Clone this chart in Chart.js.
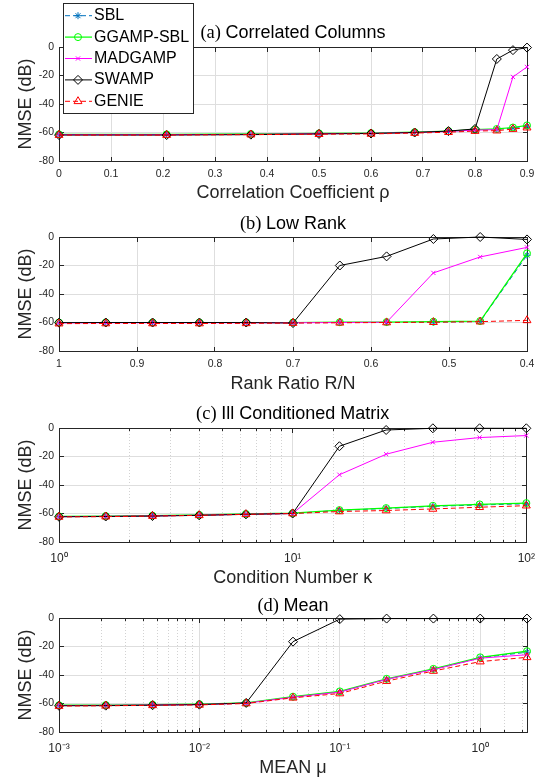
<!DOCTYPE html>
<html>
<head>
<meta charset="utf-8">
<script src="https://cdn.jsdelivr.net/npm/chart.js@4.4.1/dist/chart.umd.min.js"></script>
<style>
  html, body { margin: 0; padding: 0; background: #fff; }
  #wrap { position: relative; width: 544px; height: 784px; overflow: hidden; }
  #wrap canvas { position: absolute; left: 0; }
</style>
</head>
<body>
<div id="wrap">
  <canvas id="panelA" width="544" height="213" style="top:0px"></canvas>
  <canvas id="panelB" width="544" height="213" style="top:190px"></canvas>
  <canvas id="panelC" width="544" height="213" style="top:381px"></canvas>
  <canvas id="panelD" width="544" height="213" style="top:571px"></canvas>
</div>
<script>
// ---------- data (NMSE in dB) ----------
const methods = ['SBL', 'GGAMP-SBL', 'MADGAMP', 'SWAMP', 'GENIE'];

// (a) correlated columns
const rhoValues   = [0, 0.207, 0.369, 0.5, 0.6, 0.684, 0.749, 0.8, 0.842, 0.873, 0.9];
const corrSBL     = [-61.5, -61.5, -61.3, -60.8, -60.6, -60.0, -59.3, -58.3, -57.8, -56.8, -55.5];
const corrGGAMP   = [-61.3, -61.3, -61.0, -60.6, -60.4, -59.8, -59.0, -58.0, -57.5, -56.5, -55.0];
const corrMADGAMP = [-61.5, -61.5, -61.3, -60.8, -60.6, -60.0, -59.3, -58.3, -58.0, -21.0, -14.0];
const corrSWAMP   = [-61.8, -61.8, -61.5, -61.0, -60.7, -60.0, -59.0, -57.5, -8.4, -2.2, -0.4];
const corrGENIE   = [-61.8, -61.8, -61.5, -61.2, -61.0, -60.4, -59.8, -59.0, -58.7, -57.6, -56.6];

// (b) low rank
const rankRatio   = [1, 0.94, 0.88, 0.82, 0.76, 0.7, 0.64, 0.58, 0.52, 0.46, 0.4];
const rankSBL     = [-60.3, -60.2, -60.2, -60.2, -60.2, -60.2, -60.0, -60.0, -59.7, -59.3, -12.8];
const rankGGAMP   = [-60.0, -60.0, -60.0, -60.0, -60.0, -60.0, -59.8, -59.7, -59.4, -59.0, -11.5];
const rankMADGAMP = [-60.3, -60.2, -60.2, -60.2, -60.2, -60.2, -60.0, -59.8, -25.2, -14.0, -7.3];
const rankSWAMP   = [-60.1, -60.0, -60.0, -60.0, -60.0, -60.4, -20.0, -13.6, -1.4, 0.0, -1.7];
const rankGENIE   = [-60.8, -60.7, -60.7, -60.7, -60.6, -60.4, -60.2, -60.0, -59.8, -59.4, -58.5];

// (c) ill conditioned matrix
const condNumber  = [1, 1.585, 2.512, 3.981, 6.31, 10, 15.85, 25.12, 39.81, 63.1, 100];
const condSBL     = [-62.2, -62.0, -61.7, -61.2, -60.5, -60.0, -57.8, -56.5, -55.0, -54.0, -53.2];
const condGGAMP   = [-62.0, -61.8, -61.5, -61.0, -60.3, -59.8, -57.6, -56.2, -54.6, -53.6, -52.7];
const condMADGAMP = [-62.2, -62.0, -61.7, -61.2, -60.5, -60.0, -32.8, -18.4, -10.0, -6.7, -5.3];
const condSWAMP   = [-62.3, -62.1, -61.8, -61.3, -60.6, -60.0, -12.8, -1.4, -0.2, -0.2, -0.2];
const condGENIE   = [-62.4, -62.2, -61.8, -61.3, -60.6, -60.0, -58.6, -57.9, -56.8, -55.6, -54.5];

// (d) mean
const meanValues  = [0.001, 0.002154, 0.004642, 0.01, 0.02154, 0.04642, 0.1, 0.2154, 0.4642, 1, 2.154];
const meanSBL     = [-61.4, -61.3, -61.0, -60.7, -59.8, -55.5, -51.8, -43.0, -36.0, -28.0, -24.0];
const meanGGAMP   = [-61.2, -61.1, -60.8, -60.5, -59.6, -55.2, -51.5, -42.7, -35.7, -27.6, -23.3];
const meanMADGAMP = [-61.4, -61.3, -61.0, -60.7, -59.8, -55.6, -52.0, -43.0, -36.2, -28.2, -25.8];
const meanSWAMP   = [-61.6, -61.5, -61.2, -60.8, -59.6, -16.6, -0.8, -0.4, -0.4, -0.4, -0.4];
const meanGENIE   = [-61.8, -61.6, -61.3, -61.0, -60.0, -56.0, -53.0, -44.3, -37.2, -30.6, -27.6];

const nmseTicks = [-80, -60, -40, -20, 0];

// ---------- styles ----------
const SANS = '"Liberation Sans", Arial, Helvetica, sans-serif';
const SERIF = '"Liberation Serif", "Times New Roman", serif';
const axisColor = '#262626';
const gridColor = '#dedede';
const minorGridColor = '#d2d2d2';

const lineStyles = {
  'SBL':       { color: '#0072BD', dash: [5, 3], point: 'star',     radius: 3.5, width: 1,   order: 5 },
  'GGAMP-SBL': { color: '#00FF00', dash: [],     point: 'circle',   radius: 3.5, width: 1.2, order: 4 },
  'MADGAMP':   { color: '#FF00FF', dash: [],     point: 'crossRot', radius: 3,   width: 1,   order: 3 },
  'SWAMP':     { color: '#000000', dash: [],     point: 'rectRot',  radius: 4.5, width: 1,   order: 2 },
  'GENIE':     { color: '#FF0000', dash: [5, 3], point: 'triangle', radius: 4.6, width: 1,   order: 1 }
};

const SUP = { '0': '\u2070', '1': '\u00B9', '2': '\u00B2', '3': '\u00B3', '-': '\u207B' };
function isPow10(v) {
  const e = Math.log10(v);
  return Math.abs(e - Math.round(e)) < 1e-6;
}
function powLabel(v) {
  if (!isPow10(v)) return '';
  return '10' + String(Math.round(Math.log10(v))).split('').map(c => SUP[c]).join('');
}
const align = v => Math.round(v - 0.5) + 0.5;

// frame on all four sides with inward tick marks
const axesBox = {
  id: 'axesBox',
  beforeDatasetsDraw(chart) {
    const { ctx, chartArea: a, scales: { x, y } } = chart;
    const L = align(a.left), R = align(a.right), T = align(a.top), B = align(a.bottom);
    ctx.save();
    ctx.strokeStyle = axisColor;
    ctx.lineWidth = 1;
    ctx.beginPath();
    ctx.moveTo(L, T); ctx.lineTo(R, T); ctx.lineTo(R, B);
    x.ticks.forEach((t, i) => {
      const px = align(x.getPixelForTick(i));
      const len = x.type === 'logarithmic' && !isPow10(t.value) ? 2.5 : 4.5;
      ctx.moveTo(px, B); ctx.lineTo(px, B - len);
      ctx.moveTo(px, T); ctx.lineTo(px, T + len);
    });
    y.ticks.forEach((t, i) => {
      const py = align(y.getPixelForTick(i));
      ctx.moveTo(L, py); ctx.lineTo(L + 4.5, py);
      ctx.moveTo(R, py); ctx.lineTo(R - 4.5, py);
    });
    ctx.stroke();
    ctx.restore();
  }
};

// "(a) Correlated Columns" style heading: serif tag + sans text
const panelTitle = {
  id: 'panelTitle',
  afterDraw(chart, args, opts) {
    const { ctx, chartArea: a } = chart;
    const serif = '18.5px ' + SERIF;
    const sans = '18px ' + SANS;
    ctx.save();
    ctx.textBaseline = 'middle';
    ctx.fillStyle = '#000';
    ctx.font = serif;
    const w1 = ctx.measureText(opts.tag + ' ').width;
    ctx.font = sans;
    const w2 = ctx.measureText(opts.text).width;
    const x0 = (a.left + a.right) / 2 - (w1 + w2) / 2;
    ctx.font = serif;
    ctx.fillText(opts.tag, x0, opts.y);
    ctx.font = sans;
    ctx.fillText(opts.text, x0 + w1, opts.y);
    ctx.restore();
  }
};

// boxed legend overlapping the top-left of the first panel
const legendBox = {
  id: 'legendBox',
  afterDraw(chart, args, opts) {
    const ctx = chart.ctx;
    ctx.save();
    ctx.fillStyle = '#fff';
    ctx.fillRect(opts.left, opts.top, opts.width, opts.height);
    ctx.strokeStyle = axisColor;
    ctx.lineWidth = 1;
    ctx.strokeRect(opts.left + 0.5, opts.top + 0.5, opts.width, opts.height);
    ctx.font = '16px ' + SANS;
    ctx.textBaseline = 'middle';
    methods.forEach((name, i) => {
      const s = lineStyles[name];
      const y = opts.top + opts.firstRow + i * opts.rowGap;
      ctx.strokeStyle = s.color;
      ctx.lineWidth = s.width;
      ctx.setLineDash(s.dash);
      ctx.beginPath();
      ctx.moveTo(opts.left + 2, y);
      ctx.lineTo(opts.left + 29, y);
      ctx.stroke();
      ctx.setLineDash([]);
      ctx.lineWidth = 1;
      ctx.fillStyle = 'rgba(0,0,0,0)';
      Chart.helpers.drawPoint(ctx, { pointStyle: s.point, radius: s.radius, rotation: 0, borderWidth: 1 }, opts.left + 15, y);
      ctx.fillStyle = '#000';
      ctx.fillText(name, opts.left + 31, y);
    });
    ctx.restore();
  }
};

function series(xs, ys) {
  return xs.map((x, i) => ({ x: x, y: ys[i] }));
}

function makeDatasets(xs, rows) {
  return methods.map((name, k) => {
    const s = lineStyles[name];
    return {
      label: name,
      data: series(xs, rows[k]),
      borderColor: s.color,
      borderWidth: s.width,
      borderDash: s.dash,
      pointStyle: s.point,
      pointRadius: s.radius,
      pointBorderColor: s.color,
      pointBackgroundColor: 'rgba(0,0,0,0)',
      pointBorderWidth: 1,
      tension: 0,
      clip: false,
      order: s.order
    };
  });
}

function makePanel(id, p) {
  const isLog = p.xType === 'logarithmic';
  const xScale = {
    type: p.xType,
    min: p.xMin,
    max: p.xMax,
    reverse: !!p.reverse,
    afterFit: s => { s.height = 52; },
    grid: {
      color: ctx => (isLog && ctx.tick && !isPow10(ctx.tick.value)) ? minorGridColor : gridColor,
      lineWidth: 1,
      drawTicks: false
    },
    border: {
      color: axisColor,
      width: 1,
      dash: ctx => (isLog && ctx.tick && !isPow10(ctx.tick.value)) ? [1, 2] : []
    },
    ticks: {
      autoSkip: false,
      maxRotation: 0,
      minRotation: 0,
      color: axisColor,
      font: { family: SANS, size: isLog ? 12 : 10.5 },
      padding: isLog ? 9 : 7,
      callback: isLog ? (v => powLabel(v)) : (v => String(+v.toFixed(2)))
    },
    title: {
      display: true,
      text: p.xTitle,
      color: axisColor,
      font: { family: SANS, size: 18 },
      padding: { top: 0, bottom: p.xTitlePad }
    }
  };
  if (!isLog) xScale.ticks.stepSize = 0.1;

  return new Chart(document.getElementById(id), {
    type: 'line',
    data: { datasets: makeDatasets(p.xs, p.rows) },
    plugins: p.withLegend ? [axesBox, panelTitle, legendBox] : [axesBox, panelTitle],
    options: {
      responsive: false,
      animation: false,
      layout: { padding: { top: 47, left: 0, right: 17, bottom: 0 } },
      scales: {
        x: xScale,
        y: {
          type: 'linear',
          min: nmseTicks[0],
          max: nmseTicks[nmseTicks.length - 1],
          afterFit: s => { s.width = 59; },
          afterBuildTicks: s => { s.ticks = nmseTicks.map(v => ({ value: v })); },
          grid: { color: gridColor, lineWidth: 1, drawTicks: false },
          border: { color: axisColor, width: 1 },
          ticks: {
            color: axisColor,
            font: { family: SANS, size: 10.5 },
            padding: 5,
            callback: v => String(v)
          },
          title: {
            display: true,
            text: 'NMSE (dB)',
            color: axisColor,
            font: { family: SANS, size: 18 },
            padding: { top: 15, bottom: 0 }
          }
        }
      },
      plugins: {
        legend: { display: false },
        tooltip: { enabled: false },
        panelTitle: { tag: p.tag, text: p.title, y: p.titleY },
        legendBox: { left: 63, top: 3, width: 130, height: 110, firstRow: 12.7, rowGap: 21.4 }
      }
    }
  });
}

makePanel('panelA', {
  tag: '(a)', title: 'Correlated Columns', titleY: 33,
  xType: 'linear', xMin: 0, xMax: 0.9,
  xTitle: 'Correlation Coefficient \u03C1', xTitlePad: 9,
  xs: rhoValues,
  rows: [corrSBL, corrGGAMP, corrMADGAMP, corrSWAMP, corrGENIE],
  withLegend: true
});

makePanel('panelB', {
  tag: '(b)', title: 'Low Rank', titleY: 34,
  xType: 'linear', xMin: 0.4, xMax: 1, reverse: true,
  xTitle: 'Rank Ratio R/N', xTitlePad: 8,
  xs: rankRatio,
  rows: [rankSBL, rankGGAMP, rankMADGAMP, rankSWAMP, rankGENIE]
});

makePanel('panelC', {
  tag: '(c)', title: 'Ill Conditioned Matrix', titleY: 33,
  xType: 'logarithmic', xMin: 1, xMax: 100,
  xTitle: 'Condition Number \u03BA', xTitlePad: 5,
  xs: condNumber,
  rows: [condSBL, condGGAMP, condMADGAMP, condSWAMP, condGENIE]
});

makePanel('panelD', {
  tag: '(d)', title: 'Mean', titleY: 35,
  xType: 'logarithmic', xMin: 0.001, xMax: 2.154,
  xTitle: 'MEAN \u03BC', xTitlePad: 5,
  xs: meanValues,
  rows: [meanSBL, meanGGAMP, meanMADGAMP, meanSWAMP, meanGENIE]
});
</script>
</body>
</html>
